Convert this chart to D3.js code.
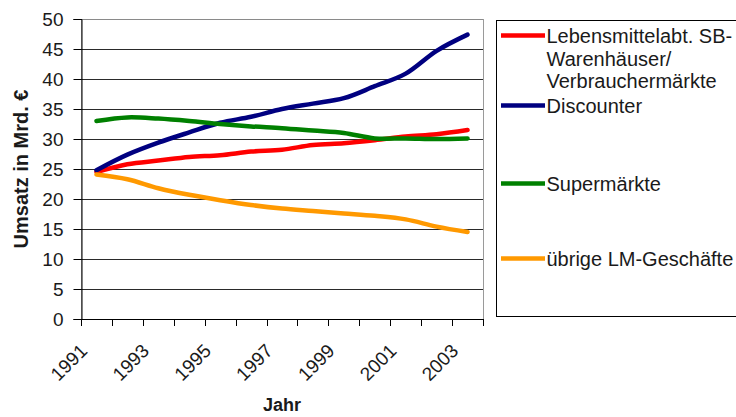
<!DOCTYPE html>
<html>
<head>
<meta charset="utf-8">
<script src="https://cdn.jsdelivr.net/npm/d3@7"></script>
<style>
  html, body { margin: 0; padding: 0; background: #fff; }
  svg { display: block; }
  text { font-family: "Liberation Sans", Arial, sans-serif; fill: #1a1a1a; }
</style>
</head>
<body>
<svg id="chart" width="736" height="417"></svg>
<script>
// ---- data ----
const years = [1991, 1992, 1993, 1994, 1995, 1996, 1997, 1998, 1999, 2000, 2001, 2002, 2003];
const labeledYears = [1991, 1993, 1995, 1997, 1999, 2001, 2003];
const yTicks = [0, 5, 10, 15, 20, 25, 30, 35, 40, 45, 50];
const seriesNames = ["Lebensmittelabt. SB-Warenhäuser/Verbrauchermärkte", "Discounter", "Supermärkte", "übrige LM-Geschäfte"];
const legendLines = [["Lebensmittelabt. SB-", "Warenhäuser/", "Verbrauchermärkte"], ["Discounter"], ["Supermärkte"], ["übrige LM-Geschäfte"]];
const seriesColors = ["#ff0000", "#000080", "#008000", "#ff9900"];
const lebensmittel = [24.5, 25.8, 26.4, 27.0, 27.3, 27.9, 28.2, 29.0, 29.3, 29.8, 30.4, 30.8, 31.5];
const discounter   = [24.8, 27.4, 29.4, 31.1, 32.7, 33.7, 35.0, 35.9, 36.8, 38.8, 40.9, 44.7, 47.4];
const supermaerkte = [33.0, 33.6, 33.4, 33.0, 32.5, 32.1, 31.8, 31.4, 31.0, 30.1, 30.1, 30.0, 30.1];
const uebrige      = [24.1, 23.3, 21.8, 20.7, 19.8, 19.0, 18.4, 18.0, 17.6, 17.2, 16.6, 15.4, 14.5];
const allSeries = [lebensmittel, discounter, supermaerkte, uebrige];

// ---- layout ----
const svg = d3.select("#chart");
const L = 81, R = 483, T = 19, B = 319;

const x = d3.scaleBand().domain(years).range([L, R]).paddingInner(0).paddingOuter(0);
const y = d3.scaleLinear().domain([0, 50]).range([B, T]);
const cx = d => x(d) + x.bandwidth() / 2;

// plot frame (grey top/right border)
svg.append("rect")
  .attr("x", L + 0.5).attr("y", T + 0.5)
  .attr("width", R - L).attr("height", B - T)
  .attr("fill", "none").attr("stroke", "#9a9a9a").attr("stroke-width", 1);

// gridlines
svg.append("g").selectAll("line").data(yTicks.filter(v => v > 0)).join("line")
  .attr("x1", L).attr("x2", R)
  .attr("y1", d => Math.round(y(d)) + 0.5).attr("y2", d => Math.round(y(d)) + 0.5)
  .attr("stroke", d => d === 50 ? "#8a8a8a" : "#2a2a2a").attr("stroke-width", 1);

// y axis
const yAxis = d3.axisLeft(y).tickValues(yTicks).tickSize(8).tickPadding(10).tickFormat(d3.format("d"));
const gy = svg.append("g").attr("transform", `translate(${L + 0.5},0)`).call(yAxis);
gy.select(".domain").attr("stroke", "#000");
gy.selectAll(".tick line").attr("stroke", "#000");
gy.selectAll(".tick text").style("font-size", "19px").attr("fill", "#1a1a1a")
  .style("font-family", '"Liberation Sans", Arial, sans-serif');

// x axis line
svg.append("line").attr("x1", L).attr("x2", R + 1)
  .attr("y1", B + 0.5).attr("y2", B + 0.5).attr("stroke", "#000");
// x ticks at category boundaries
const boundaries = years.map(d => x(d)).concat([x(years[years.length - 1]) + x.bandwidth()]);
svg.append("g").selectAll("line").data(boundaries).join("line")
  .attr("x1", d => Math.round(d) + 0.5).attr("x2", d => Math.round(d) + 0.5)
  .attr("y1", B).attr("y2", B + 7).attr("stroke", "#000");
// x labels
svg.append("g").selectAll("text").data(labeledYears).join("text")
  .attr("transform", d => `translate(${cx(d) - 8},${B + 33}) rotate(-45)`)
  .attr("text-anchor", "end")
  .style("font-size", "19px")
  .text(d => d);

// axis titles
svg.append("text")
  .attr("transform", `translate(28,169) rotate(-90)`)
  .attr("text-anchor", "middle")
  .style("font-size", "20px").style("font-weight", "bold")
  .text("Umsatz in Mrd. €");
svg.append("text")
  .attr("x", 282).attr("y", 411)
  .attr("text-anchor", "middle")
  .style("font-size", "18px").style("font-weight", "bold")
  .text("Jahr");

// lines
const line = d3.line().x((d, i) => cx(years[i])).y(d => y(d)).curve(d3.curveCatmullRom.alpha(0.5));
svg.append("g").selectAll("path").data(allSeries).join("path")
  .attr("d", d => line(d))
  .attr("fill", "none")
  .attr("stroke", (d, i) => seriesColors[i])
  .attr("stroke-width", 4.5)
  .attr("stroke-linecap", "round")
  .attr("stroke-linejoin", "round");

// legend
svg.append("rect").attr("x", 496.5).attr("y", 20.5).attr("width", 300).attr("height", 296)
  .attr("fill", "#fff").attr("stroke", "#000").attr("stroke-width", 1);
const legendBase = [43, 113, 191, 266];
const lg = svg.append("g");
legendLines.forEach((lines, i) => {
  lg.append("line")
    .attr("x1", 501).attr("x2", 545)
    .attr("y1", legendBase[i] - 7.5).attr("y2", legendBase[i] - 7.5)
    .attr("stroke", seriesColors[i]).attr("stroke-width", 4.5);
  const t = lg.append("text").attr("x", 546.5).attr("y", legendBase[i]).style("font-size", "20px");
  lines.forEach((s, j) => {
    t.append("tspan").attr("x", 546.5).attr("dy", j === 0 ? 0 : 22.6).text(s);
  });
});
</script>
</body>
</html>
